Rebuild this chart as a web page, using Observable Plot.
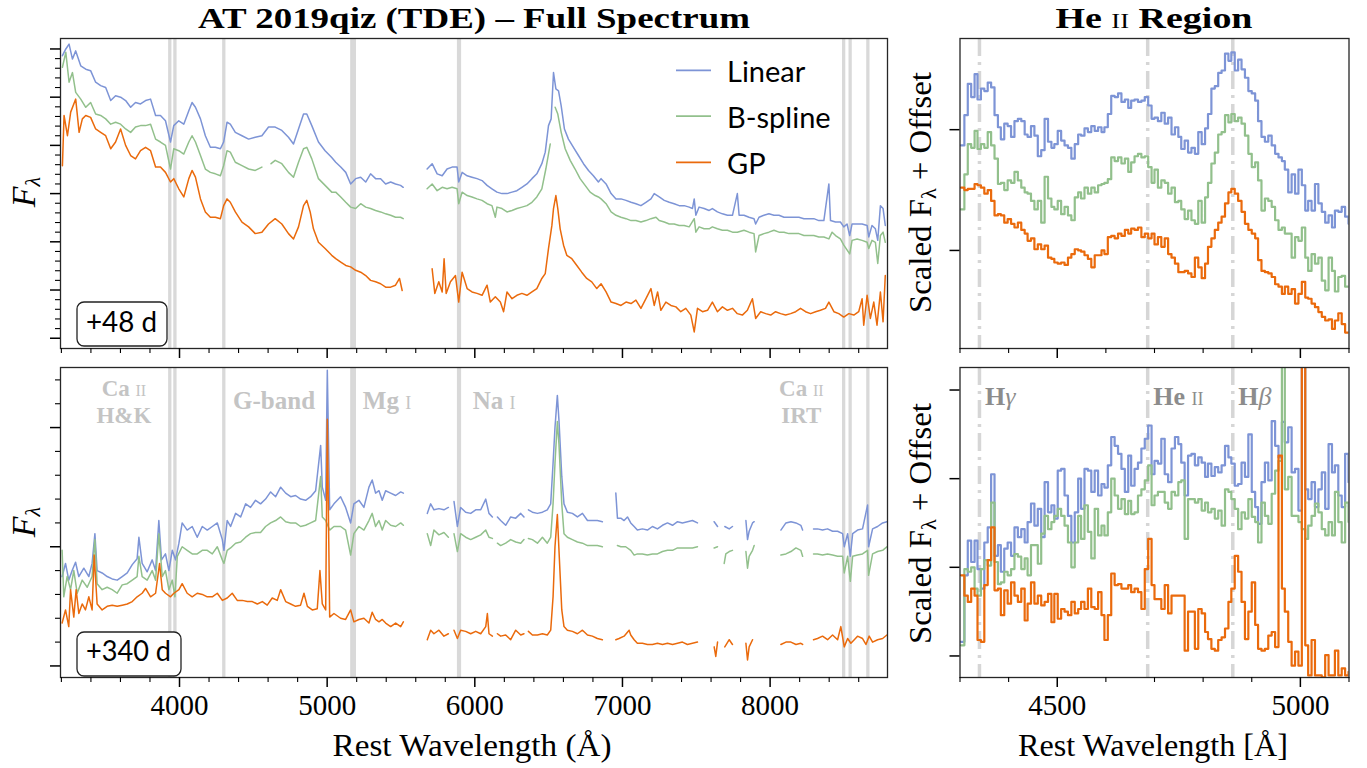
<!DOCTYPE html>
<html>
<head>
<meta charset="utf-8">
<script src="https://cdn.jsdelivr.net/npm/d3@7"></script>
<script src="https://cdn.jsdelivr.net/npm/@observablehq/plot@0.6"></script>
<style>
html,body{margin:0;padding:0;background:#fff;}
#wrap{position:relative;width:1367px;height:768px;overflow:hidden;background:#fff;}
</style>
</head>
<body>
<div id="wrap"></div>
<script>
// ---------------- series ----------------
const seriesNames = ["Linear", "B-spline", "GP"];
const seriesColors = ["#7d94d6", "#92c08c", "#ea6a0c"];
const epochLabels = ["+48 d", "+340 d"];

// ---------------- ticks ----------------
const fullMajorX = [4000, 5000, 6000, 7000, 8000];
const fullMinorX = [3200, 3400, 3600, 3800, 4200, 4400, 4600, 4800, 5200, 5400, 5600, 5800, 6200, 6400, 6600, 6800, 7200, 7400, 7600, 7800, 8200, 8400, 8600];
const zoomMajorX = [4500, 5000];
const zoomMinorX = [4300, 4400, 4600, 4700, 4800, 4900, 5100];
const topMajorY = [0, 1, 2, 3, 4, 5, 6];
const topMinorY = [0.2, 0.4, 0.6, 0.8, 1.2, 1.4, 1.6, 1.8, 2.2, 2.4, 2.6, 2.8, 3.2, 3.4, 3.6, 3.8, 4.2, 4.4, 4.6, 4.8, 5.2, 5.4, 5.6, 5.8];
const botMajorY = [0, 1, 2];
const botMinorY = [0.2, 0.4, 0.6, 0.8, 1.2, 1.4, 1.6, 1.8, 2.2, 2.4];
const heTopY = [0, 1];
const heBotY = [0, 1, 2, 3];

// ---------------- spectral features ----------------
const featureLines = [3934, 3969, 4300, 5167, 5173, 5184, 5890, 5896, 8498, 8542, 8662];
const featureLabels = [
  {name: "Ca", ion: "ii", second: "H&K", at: 3627},
  {name: "G-band", ion: "", second: "", at: 4644},
  {name: "Mg", ion: "i", second: "", at: 5409},
  {name: "Na", ion: "i", second: "", at: 6134},
  {name: "Ca", ion: "ii", second: "IRT", at: 8215}
];
const heLines = [4340, 4686, 4861];
const heLabels = [
  {name: "H", greek: "γ", ion: "", at: 4340},
  {name: "He", greek: "", ion: "ii", at: 4686},
  {name: "H", greek: "β", ion: "", at: 4861}
];

// ---------------- +48 d full spectrum [wavelength, flux] ----------------
const linear48 = [[3207,5.86],[3230,6.00],[3252,6.10],[3275,5.79],[3297,5.96],[3331,5.65],[3365,5.58],[3398,5.55],[3432,5.31],[3466,5.24],[3500,5.20],[3534,4.93],[3567,5.03],[3601,5.00],[3635,4.93],[3669,4.79],[3702,4.89],[3736,4.86],[3770,4.93],[3804,4.96],[3838,4.62],[3871,4.62],[3905,4.51],[3939,4.07],[3961,4.41],[3995,4.51],[4029,4.44],[4063,4.72],[4085,4.89],[4108,4.79],[4142,4.55],[4175,4.20],[4209,3.96],[4243,3.96],[4277,3.93],[4299,4.07],[4322,4.48],[4344,4.44],[4378,4.27],[4423,4.20],[4468,4.13],[4513,4.17],[4558,4.20],[4603,4.38],[4648,4.38],[4693,4.31],[4738,4.17],[4772,4.03],[4806,4.34],[4840,4.65],[4862,4.65],[4896,4.41],[4941,4.07],[4986,3.89],[5031,3.75],
[5058,3.65],[5092,3.55],[5126,3.44],[5159,3.20],[5193,3.31],[5227,3.34],[5261,3.24],[5294,3.41],[5328,3.31],[5362,3.31],[5396,3.20],[5430,3.24],[5463,3.20],[5497,3.17],[5515,3.13],[5540,null],[5677,3.51],[5711,3.62],[5745,3.41],[5779,3.37],[5812,3.51],[5846,3.55],[5880,3.55],[5891,3.24],[5914,3.44],[5948,3.37],[5981,3.34],[6015,3.31],[6049,3.27],[6083,3.17],[6116,3.10],[6150,3.03],[6184,3.00],[6218,3.00],[6252,3.03],[6285,3.06],[6319,3.13],[6353,3.20],[6387,3.31],[6420,3.41],[6454,3.62],[6477,3.86],[6499,4.41],[6517,4.55],[6533,5.51],[6549,5.17],[6567,5.13],[6585,4.82],[6607,4.34],[6634,4.13],[6668,3.96],[6702,3.79],[6736,3.62],[6770,3.48],[6803,3.37],[6837,3.24],
[6855,3.31],[6889,3.20],[6923,3.00],[6956,2.89],[6990,2.89],[7024,2.86],[7058,2.82],[7091,2.79],[7125,2.75],[7159,2.82],[7193,2.89],[7215,3.00],[7249,2.93],[7283,2.86],[7317,2.82],[7350,2.79],[7384,2.75],[7418,2.75],[7452,2.72],[7474,2.69],[7486,2.89],[7497,2.55],[7519,2.72],[7553,2.69],[7587,2.65],[7609,2.69],[7643,2.62],[7677,2.58],[7711,2.55],[7745,2.55],[7778,3.00],[7790,2.55],[7823,2.55],[7857,2.51],[7891,2.48],[7902,2.37],[7925,2.51],[7958,2.55],[7992,2.58],[8026,2.55],[8060,2.55],[8094,2.51],[8127,2.51],[8161,2.51],[8195,2.51],[8229,2.48],[8263,2.48],[8296,2.48],[8330,2.44],[8364,2.44],[8398,3.20],[8409,2.44],[8443,2.41],[8476,2.41],[8499,2.31],[8521,2.37],[8539,2.13],[8555,2.37],[8589,2.37],[8623,2.37],[8657,2.34],[8668,2.10],[8690,2.34],[8713,2.27],[8729,2.03],[8747,2.75],[8765,2.69],[8780,2.34]];

const bspline48 = [[3207,5.62],[3230,5.93],[3252,5.31],[3275,5.51],[3297,5.10],[3331,4.96],[3365,4.79],[3398,4.89],[3432,4.65],[3466,4.62],[3500,4.55],[3534,4.44],[3567,4.48],[3601,4.44],[3635,4.34],[3669,4.27],[3702,4.38],[3736,4.41],[3770,4.41],[3804,4.44],[3838,4.13],[3871,4.07],[3905,4.00],[3939,3.51],[3961,3.93],[3995,3.89],[4029,3.82],[4063,4.07],[4085,4.20],[4108,4.07],[4142,3.79],[4175,3.51],[4209,3.44],[4243,3.41],[4277,3.37],[4299,3.58],[4322,3.89],[4344,3.86],[4378,3.65],[4423,3.58],[4468,3.51],[4513,3.48],[4558,3.55],[4590,null],[4620,3.62],[4648,3.69],[4693,3.62],[4738,3.44],[4772,3.34],[4806,3.65],[4840,3.93],[4862,3.96],[4896,3.72],[4941,3.31],[4986,3.17],[5031,3.03],
[5058,3.03],[5092,2.93],[5126,2.82],[5159,2.72],[5193,2.69],[5227,2.79],[5261,2.72],[5294,2.69],[5328,2.65],[5362,2.62],[5396,2.58],[5430,2.55],[5463,2.51],[5497,2.51],[5515,2.48],[5540,null],[5677,3.10],[5711,3.20],[5745,3.06],[5779,3.13],[5812,3.10],[5846,3.13],[5880,3.10],[5891,2.79],[5914,3.03],[5948,2.96],[5981,2.93],[6015,2.89],[6049,2.86],[6083,2.79],[6116,2.75],[6139,2.51],[6150,2.72],[6184,2.69],[6218,2.62],[6252,2.65],[6285,2.69],[6319,2.72],[6353,2.75],[6387,2.82],[6420,2.93],[6454,3.10],[6481,3.51],[6511,4.03],[6525,null],[6544,4.79],[6562,4.65],[6585,4.27],[6612,3.93],[6646,3.69],[6679,3.51],[6713,3.31],[6747,3.17],[6781,3.03],[6815,2.96],[6837,2.93],
[6855,2.89],[6889,2.79],[6923,2.62],[6956,2.55],[6990,2.51],[7024,2.48],[7058,2.44],[7091,2.44],[7125,2.41],[7159,2.44],[7193,2.48],[7227,2.51],[7249,2.44],[7283,2.41],[7317,2.37],[7350,2.37],[7384,2.34],[7418,2.34],[7452,2.31],[7486,2.48],[7497,2.20],[7519,2.31],[7553,2.27],[7587,2.27],[7609,2.31],[7643,2.27],[7677,2.24],[7711,2.24],[7745,2.20],[7778,2.20],[7823,2.24],[7857,2.20],[7891,2.17],[7902,1.79],[7925,2.13],[7958,2.17],[7992,2.20],[8026,2.24],[8060,2.20],[8094,2.20],[8127,2.17],[8161,2.17],[8195,2.17],[8229,2.13],[8263,2.13],[8296,2.13],[8330,2.10],[8364,2.10],[8398,2.06],[8420,2.20],[8443,2.13],[8476,2.06],[8499,1.93],[8539,1.75],[8555,2.03],[8589,2.06],[8623,2.03],[8657,1.99],[8668,1.86],[8690,2.03],[8713,1.99],[8729,1.55],[8747,2.13],[8765,2.20],[8780,1.99]];

const gp48 = [[3207,3.58],[3218,4.62],[3241,4.20],[3263,4.69],[3297,4.96],[3320,4.27],[3342,4.55],[3365,4.62],[3398,4.58],[3432,4.34],[3466,4.27],[3500,4.20],[3534,3.93],[3567,4.07],[3601,4.34],[3635,4.00],[3669,3.79],[3702,3.72],[3736,3.89],[3770,3.96],[3804,3.89],[3838,3.55],[3871,3.55],[3905,3.44],[3939,3.24],[3961,3.31],[3995,3.10],[4029,2.93],[4063,3.31],[4085,3.48],[4108,3.34],[4142,2.89],[4175,2.62],[4209,2.51],[4243,2.51],[4277,2.48],[4299,2.75],[4322,2.89],[4344,2.82],[4378,2.62],[4423,2.41],[4468,2.31],[4513,2.17],[4558,2.20],[4603,2.37],[4648,2.48],[4693,2.37],[4738,2.17],[4772,2.06],[4806,2.31],[4840,2.75],[4862,2.86],[4885,2.62],[4907,2.27],[4941,1.99],[4986,1.86],[5031,1.72],
[5058,1.65],[5092,1.58],[5126,1.51],[5159,1.48],[5193,1.41],[5227,1.37],[5261,1.30],[5294,1.20],[5328,1.17],[5362,1.13],[5396,1.06],[5430,1.06],[5463,1.10],[5490,1.24],[5508,0.99],[5540,null],[5711,1.44],[5729,0.93],[5756,1.17],[5779,0.96],[5792,1.65],[5806,0.93],[5835,1.17],[5869,1.30],[5891,0.75],[5914,1.37],[5948,1.03],[5981,0.96],[6015,0.93],[6049,0.89],[6083,1.10],[6105,0.75],[6139,0.86],[6173,0.75],[6195,0.55],[6218,0.96],[6252,0.82],[6285,0.89],[6319,0.93],[6353,0.89],[6387,0.96],[6420,1.03],[6454,1.24],[6477,1.34],[6499,1.86],[6522,2.34],[6533,2.69],[6549,2.96],[6562,2.69],[6578,2.27],[6601,1.93],[6623,1.72],[6657,1.65],[6691,1.51],[6724,1.37],[6758,1.24],[6792,1.17],[6826,1.03],
[6855,1.13],[6889,0.96],[6923,0.75],[6956,0.72],[6990,0.68],[7024,0.75],[7058,0.72],[7091,0.79],[7125,0.62],[7159,0.82],[7193,1.03],[7215,0.68],[7238,0.96],[7260,0.58],[7294,0.75],[7328,0.68],[7362,0.65],[7395,0.55],[7429,0.62],[7463,0.48],[7486,0.13],[7508,0.62],[7542,0.55],[7576,0.58],[7609,0.75],[7643,0.55],[7677,0.65],[7711,0.58],[7745,0.62],[7778,0.51],[7812,0.48],[7846,0.58],[7880,0.82],[7902,0.41],[7936,0.55],[7970,0.51],[8004,0.48],[8037,0.55],[8071,0.51],[8105,0.48],[8139,0.51],[8173,0.55],[8206,0.62],[8240,0.55],[8274,0.51],[8308,0.55],[8341,0.58],[8375,0.62],[8398,0.75],[8432,0.55],[8465,0.51],[8499,0.44],[8533,0.51],[8567,0.48],[8600,0.55],[8623,0.82],[8634,0.27],[8657,0.89],[8679,0.41],[8702,0.75],[8724,0.27],[8747,0.96],[8765,0.34],[8780,1.30]];

// ---------------- +340 d full spectrum [wavelength, flux] ----------------
const linear340 = [[3205,0.75],[3228,0.86],[3250,0.72],[3273,0.80],[3296,0.87],[3318,0.75],[3352,0.82],[3386,0.75],[3408,0.86],[3427,1.11],[3442,0.80],[3476,0.78],[3510,0.75],[3544,0.73],[3578,0.72],[3612,0.75],[3646,0.78],[3680,0.85],[3713,0.90],[3725,1.08],[3747,0.86],[3781,0.79],[3815,0.89],[3838,0.80],[3860,1.22],[3878,0.89],[3905,0.94],[3928,0.80],[3951,0.97],[3973,0.89],[3996,1.03],[4018,1.20],[4052,1.14],[4086,1.17],[4120,1.08],[4154,1.17],[4188,1.14],[4222,1.17],[4256,1.20],[4290,1.06],[4301,0.97],[4323,1.22],[4346,1.17],[4380,1.28],[4414,1.25],[4448,1.36],[4481,1.33],[4515,1.39],[4549,1.36],[4583,1.40],[4617,1.46],[4651,1.42],[4685,1.50],[4719,1.45],[4753,1.42],[4786,1.43],[4820,1.40],[4854,1.39],[4888,1.42],[4922,1.47],[4956,1.85],[4967,1.50],[4990,1.39],[5001,2.48],[5017,1.31],[5046,1.36],
[5091,1.42],[5125,1.33],[5159,1.20],[5181,1.36],[5215,1.39],[5249,1.33],[5283,1.50],[5305,1.56],[5328,1.45],[5351,1.47],[5373,1.39],[5396,1.47],[5430,1.45],[5464,1.43],[5498,1.46],[5516,1.45],[5560,null],[5678,1.28],[5701,1.36],[5723,1.31],[5757,1.32],[5791,1.31],[5821,1.33],[5840,null],[5859,1.38],[5882,1.17],[5904,1.33],[5938,1.29],[5972,1.28],[6006,1.31],[6040,1.31],[6074,1.40],[6096,1.28],[6119,1.25],[6130,null],[6153,1.25],[6175,1.22],[6209,1.18],[6243,1.25],[6277,1.24],[6311,1.28],[6333,1.25],[6345,null],[6363,1.31],[6390,1.29],[6424,1.28],[6458,1.29],[6491,1.31],[6514,1.36],[6530,1.70],[6543,2.00],[6559,2.27],[6570,2.06],[6589,1.59],[6604,1.36],[6627,1.29],[6661,1.28],[6695,1.25],[6729,1.28],[6763,1.22],[6796,1.22],[6830,1.22],[6864,1.21],[6900,null],
[6955,1.45],[6966,1.24],[6989,1.24],[7011,1.22],[7034,1.25],[7056,1.20],[7079,1.17],[7101,1.14],[7135,1.15],[7169,1.14],[7203,1.17],[7237,1.15],[7271,1.18],[7305,1.20],[7339,1.18],[7373,1.21],[7406,1.20],[7440,1.21],[7474,1.22],[7508,1.20],[7560,null],[7621,1.21],[7644,1.17],[7665,null],[7693,1.17],[7723,1.15],[7745,1.17],[7790,null],[7836,1.22],[7847,1.06],[7858,1.13],[7881,1.20],[7892,1.21],[7980,null],[8073,1.14],[8107,1.20],[8141,1.21],[8175,1.20],[8208,1.18],[8220,1.14],[8260,null],[8294,1.15],[8321,1.15],[8355,1.14],[8389,1.15],[8423,1.13],[8457,1.13],[8491,1.11],[8502,1.00],[8525,1.11],[8543,0.92],[8559,1.11],[8592,1.14],[8626,1.15],[8660,1.35],[8667,1.00],[8694,1.15],[8728,1.17],[8762,1.20],[8791,1.21]];

const bspline340 = [[3205,0.97],[3216,0.58],[3239,0.75],[3262,0.64],[3284,0.80],[3307,0.61],[3341,0.72],[3375,0.66],[3408,0.75],[3427,1.06],[3442,0.69],[3476,0.64],[3510,0.66],[3544,0.64],[3578,0.61],[3612,0.68],[3646,0.69],[3680,0.72],[3713,0.75],[3725,0.92],[3747,0.75],[3781,0.72],[3815,0.80],[3838,0.72],[3860,1.11],[3883,0.75],[3905,0.80],[3928,0.64],[3951,0.72],[3969,0.58],[3985,0.92],[4018,1.00],[4052,0.97],[4086,0.94],[4120,0.94],[4154,0.97],[4188,0.97],[4222,0.94],[4256,1.00],[4290,0.89],[4301,0.86],[4323,0.97],[4346,0.99],[4380,1.03],[4414,1.04],[4448,1.08],[4481,1.11],[4515,1.12],[4549,1.12],[4583,1.17],[4617,1.20],[4651,1.22],[4685,1.25],[4719,1.21],[4753,1.20],[4786,1.20],[4820,1.17],[4854,1.18],[4888,1.20],[4922,1.22],[4956,1.59],[4967,1.25],[4990,1.22],[5017,1.14],[5046,1.17],
[5091,1.17],[5125,1.14],[5159,0.93],[5181,1.11],[5215,1.17],[5249,1.14],[5283,1.22],[5305,1.28],[5328,1.17],[5351,1.22],[5373,1.14],[5396,1.22],[5430,1.18],[5464,1.17],[5498,1.20],[5516,1.18],[5560,null],[5678,1.11],[5701,1.01],[5723,1.14],[5757,1.10],[5791,1.12],[5821,1.08],[5840,null],[5859,1.11],[5882,0.96],[5904,1.11],[5938,1.08],[5972,1.06],[6006,1.08],[6040,1.10],[6074,1.14],[6096,1.08],[6119,1.07],[6130,null],[6153,1.03],[6175,1.01],[6209,1.03],[6243,1.06],[6277,1.04],[6311,1.03],[6333,1.06],[6345,null],[6363,1.07],[6390,1.06],[6424,1.03],[6458,1.08],[6491,1.03],[6514,1.08],[6530,1.36],[6543,1.70],[6559,2.05],[6570,1.86],[6589,1.36],[6604,1.11],[6627,1.08],[6661,1.06],[6695,1.04],[6729,1.03],[6763,1.01],[6796,1.01],[6830,1.01],[6864,1.00],[6900,null],
[6966,1.01],[6989,1.00],[7022,1.00],[7056,0.97],[7079,0.93],[7101,0.94],[7135,0.94],[7169,0.93],[7203,0.94],[7237,0.94],[7271,0.96],[7305,0.97],[7339,0.97],[7373,0.99],[7406,0.99],[7440,0.99],[7474,0.99],[7508,1.00],[7560,null],[7621,0.99],[7644,1.00],[7665,null],[7689,0.86],[7700,0.94],[7723,0.96],[7745,0.97],[7790,null],[7836,0.96],[7847,0.82],[7858,0.92],[7881,0.97],[7892,1.01],[7980,null],[8073,0.93],[8107,0.94],[8141,0.96],[8175,0.99],[8208,0.97],[8220,0.92],[8260,null],[8294,0.94],[8321,0.94],[8355,0.93],[8389,0.94],[8423,0.93],[8457,0.92],[8491,0.92],[8502,0.78],[8525,0.92],[8543,0.71],[8559,0.92],[8592,0.93],[8626,0.94],[8660,0.97],[8667,0.76],[8694,0.94],[8728,0.96],[8762,0.97],[8791,1.00]];

const gp340 = [[3205,0.36],[3228,0.47],[3250,0.33],[3262,0.64],[3284,0.41],[3300,0.64],[3318,0.44],[3341,0.52],[3363,0.47],[3386,0.58],[3408,0.47],[3422,0.93],[3442,0.52],[3476,0.47],[3510,0.50],[3544,0.51],[3578,0.50],[3612,0.51],[3646,0.52],[3680,0.54],[3713,0.58],[3747,0.61],[3770,0.65],[3804,0.58],[3838,0.61],[3865,0.86],[3883,0.64],[3905,0.61],[3939,0.58],[3962,0.61],[3996,0.64],[4018,0.69],[4052,0.61],[4086,0.58],[4120,0.61],[4154,0.60],[4188,0.58],[4222,0.58],[4256,0.61],[4290,0.55],[4323,0.57],[4357,0.61],[4391,0.55],[4425,0.55],[4459,0.54],[4493,0.54],[4527,0.52],[4561,0.54],[4594,0.51],[4628,0.57],[4662,0.55],[4685,0.64],[4719,0.54],[4753,0.52],[4786,0.50],[4820,0.51],[4843,0.61],[4866,0.50],[4899,0.47],[4933,0.48],[4951,0.80],[4967,0.52],[4990,0.47],[5001,2.07],[5017,0.41],[5046,0.44],
[5091,0.40],[5125,0.39],[5159,0.47],[5181,0.37],[5215,0.39],[5249,0.40],[5283,0.36],[5305,0.45],[5328,0.39],[5351,0.37],[5373,0.39],[5396,0.36],[5430,0.33],[5464,0.36],[5498,0.33],[5516,0.37],[5560,null],[5678,0.22],[5701,0.30],[5723,0.27],[5757,0.30],[5791,0.25],[5821,0.27],[5840,null],[5859,0.30],[5882,0.23],[5904,0.30],[5938,0.29],[5972,0.27],[6006,0.29],[6040,0.27],[6074,0.33],[6085,0.44],[6096,0.27],[6119,0.25],[6130,null],[6153,0.27],[6175,0.25],[6209,0.26],[6243,0.22],[6277,0.30],[6311,0.26],[6333,0.27],[6345,null],[6363,0.29],[6390,0.26],[6424,0.26],[6458,0.27],[6491,0.26],[6514,0.30],[6530,0.58],[6543,1.00],[6559,1.27],[6570,0.97],[6589,0.47],[6604,0.33],[6627,0.30],[6661,0.29],[6695,0.27],[6729,0.30],[6763,0.26],[6796,0.25],[6830,0.23],[6864,0.22],[6900,null],
[6955,0.22],[6977,0.23],[7011,0.25],[7045,0.30],[7056,0.26],[7079,0.22],[7101,0.19],[7135,0.19],[7169,0.18],[7203,0.18],[7237,0.19],[7271,0.18],[7305,0.19],[7339,0.18],[7373,0.19],[7406,0.20],[7440,0.18],[7474,0.19],[7508,0.20],[7560,null],[7621,0.16],[7632,0.08],[7644,0.20],[7665,null],[7693,0.16],[7723,0.22],[7745,0.18],[7790,null],[7836,0.19],[7847,0.05],[7858,0.16],[7881,0.22],[7980,null],[8073,0.18],[8107,0.20],[8141,0.20],[8175,0.18],[8208,0.19],[8220,0.18],[8260,null],[8294,0.22],[8321,0.23],[8355,0.25],[8389,0.22],[8423,0.26],[8457,0.22],[8479,0.33],[8502,0.16],[8525,0.23],[8547,0.19],[8570,0.22],[8592,0.25],[8626,0.23],[8649,0.18],[8671,0.25],[8694,0.20],[8728,0.22],[8762,0.23],[8791,0.26]];

// ---------------- He II region (binned, bin start wavelengths) ----------------
const heWave = [4302,4309,4316,4323,4330,4336,4343,4350,4357,4364,
4371,4378,4384,4391,4398,4405,4412,4419,4426,4433,
4439,4446,4453,4460,4467,4474,4481,4488,4494,4501,
4508,4515,4522,4529,4536,4543,4549,4556,4563,4570,
4577,4584,4591,4597,4604,4611,4618,4625,4632,4639,
4646,4652,4659,4666,4673,4680,4687,4694,4700,4707,
4714,4721,4728,4735,4742,4749,4755,4762,4769,4776,
4783,4790,4797,4804,4810,4817,4824,4831,4838,4845,
4852,4858,4865,4872,4879,4886,4893,4900,4907,4913,
4920,4927,4934,4941,4948,4955,4962,4968,4975,4982,
4989,4996,5003,5010,5016,5023,5030,5037,5044,5051,
5058,5065,5071,5078,5085,5092,5099];

const linearHe48 = [0.87,1.12,1.38,1.27,1.46,1.25,1.34,1.32,1.39,1.35,
1.12,1.02,0.92,1.05,1.03,0.94,1.07,1.09,1.07,0.96,
0.94,1.03,0.95,0.78,0.83,1.09,0.90,0.85,0.88,0.99,
0.91,0.87,0.85,0.76,0.88,0.96,0.95,1.01,0.98,1.03,
0.99,1.02,0.98,1.02,1.13,1.28,1.27,1.30,1.23,1.25,
1.18,1.24,1.25,1.23,1.24,1.27,1.20,1.09,1.10,1.07,
1.14,1.05,1.10,0.96,1.02,0.94,0.84,0.91,0.81,0.85,
0.80,0.98,0.88,1.01,1.13,1.34,1.36,1.47,1.49,1.63,
1.57,1.64,1.49,1.58,1.50,1.43,1.32,1.30,1.24,1.07,
0.94,0.90,0.95,0.87,0.80,0.77,0.74,0.67,0.48,0.63,
0.47,0.67,0.54,0.33,0.41,0.33,0.55,0.39,0.32,0.23,
0.29,0.19,0.33,0.32,0.36,0.28,0.22];

const bsplineHe48 = [0.34,0.63,0.88,0.85,0.99,0.84,0.88,0.85,0.98,0.87,
0.76,0.55,0.56,0.50,0.58,0.56,0.65,0.58,0.52,0.48,
0.47,0.41,0.34,0.41,0.23,0.61,0.43,0.36,0.34,0.41,
0.30,0.36,0.29,0.25,0.44,0.48,0.43,0.52,0.47,0.52,
0.48,0.54,0.55,0.56,0.59,0.77,0.74,0.77,0.72,0.76,
0.65,0.73,0.78,0.80,0.77,0.78,0.69,0.56,0.67,0.52,
0.58,0.56,0.47,0.52,0.40,0.41,0.34,0.26,0.33,0.25,
0.22,0.41,0.23,0.44,0.56,0.72,0.81,0.96,0.98,1.12,
1.06,1.13,1.07,1.10,1.05,0.95,0.80,0.69,0.73,0.58,
0.33,0.43,0.41,0.36,0.25,0.17,0.19,0.14,0.14,-0.06,
0.11,0.08,0.19,-0.06,-0.17,-0.03,-0.11,-0.06,-0.25,-0.33,
-0.06,-0.17,-0.34,-0.22,-0.21,-0.30,-0.30];

const gpHe48 = [0.52,0.50,0.51,0.51,0.55,0.54,0.52,0.47,0.50,0.41,
0.29,0.30,0.29,0.23,0.26,0.22,0.19,0.23,0.17,0.14,
0.08,0.10,0.01,0.05,0.01,0.04,-0.06,-0.07,-0.10,-0.11,
-0.10,-0.12,-0.06,-0.03,0.01,0.00,-0.01,-0.04,-0.07,-0.14,
-0.04,-0.04,0.00,-0.03,0.11,0.12,0.10,0.14,0.12,0.17,
0.14,0.18,0.17,0.19,0.11,0.14,0.10,0.14,0.05,0.11,
0.03,0.10,-0.03,-0.06,-0.11,-0.18,-0.18,-0.17,-0.19,-0.22,
-0.06,-0.14,-0.23,-0.11,0.03,0.10,0.17,0.23,0.28,0.39,
0.48,0.51,0.47,0.41,0.32,0.22,0.17,0.14,0.10,-0.08,
-0.17,-0.18,-0.19,-0.22,-0.28,-0.30,-0.36,-0.30,-0.36,-0.32,
-0.44,-0.36,-0.26,-0.39,-0.40,-0.44,-0.47,-0.51,-0.55,-0.58,
-0.57,-0.65,-0.58,-0.52,-0.61,-0.68,-0.68];

const linearHe340 = [0.16,0.91,1.30,1.06,1.30,0.98,0.76,1.28,1.45,2.05,
1.13,1.25,0.95,1.21,1.28,1.13,1.45,1.34,1.43,1.28,
1.51,1.72,1.47,1.66,1.34,1.96,1.62,1.70,1.55,2.09,
2.11,1.81,1.58,1.28,1.62,2.00,1.66,2.11,2.09,1.85,
2.09,1.81,1.94,1.90,2.15,2.47,2.37,2.28,2.11,1.85,
2.26,1.92,2.11,2.18,2.34,2.45,2.60,2.05,2.20,2.17,
2.45,2.05,1.96,2.34,2.47,2.39,2.18,1.81,2.26,2.28,
2.15,2.24,2.18,2.02,2.17,2.03,2.13,2.07,2.15,2.37,
2.24,2.17,1.92,1.94,2.18,2.02,2.50,1.85,1.68,1.49,
1.96,2.18,1.98,2.65,2.37,2.24,2.64,2.41,2.58,2.07,
2.11,1.64,3.60,1.88,1.77,1.96,1.68,1.88,2.07,1.66,
2.39,2.07,2.15,1.81,1.68,2.28,1.96];

const bsplineHe340 = [0.12,0.98,0.95,1.00,0.76,0.68,0.98,1.08,1.02,1.73,
1.06,0.81,0.83,0.95,0.91,0.98,1.15,1.12,0.98,1.10,
0.91,1.25,1.25,1.04,1.38,1.58,1.43,1.51,1.58,1.66,
1.58,1.47,1.28,1.00,1.28,1.58,1.32,1.70,1.40,1.10,
1.66,1.36,1.47,1.36,1.62,2.00,1.81,1.66,1.77,1.60,
1.75,1.60,1.62,1.81,1.88,1.98,2.15,1.70,1.81,1.85,
1.85,1.73,1.66,1.85,1.81,1.96,1.98,1.32,1.77,1.77,
1.73,1.77,1.64,1.73,1.62,1.66,1.55,1.64,1.47,1.88,
1.85,1.77,1.66,1.43,1.62,1.55,1.77,1.57,1.51,1.28,
1.73,1.58,1.49,1.83,2.09,2.20,3.60,1.88,2.02,1.58,
1.58,1.51,1.43,1.32,1.47,1.58,1.72,1.62,1.43,1.36,
1.51,1.36,1.85,1.51,1.28,1.73,1.51];

const gpHe340 = [0.91,0.68,0.61,0.76,0.68,0.18,0.16,0.80,1.08,1.45,
0.74,0.76,0.46,0.74,0.59,0.83,0.68,0.61,0.76,0.40,
0.59,0.83,0.59,0.68,0.57,0.61,0.70,0.38,0.70,0.42,
0.53,0.50,0.46,0.61,0.48,0.53,0.61,0.53,0.76,0.55,
0.53,0.72,0.46,0.18,0.46,0.93,0.80,0.81,0.76,0.76,
0.80,0.72,0.76,0.72,0.53,0.98,1.32,0.80,0.64,0.64,
0.53,0.80,0.48,0.68,0.68,0.68,0.68,0.06,0.50,0.50,
0.08,0.53,0.48,0.27,0.19,0.08,0.06,0.18,0.21,0.31,
0.61,0.76,1.13,0.95,0.61,0.19,0.50,0.83,0.35,0.08,
0.06,0.08,0.23,0.27,0.10,2.26,0.76,0.50,0.16,-0.11,
0.05,-0.11,3.60,0.12,-0.22,0.18,-0.22,-0.22,-0.24,0.01,
-0.22,-0.22,0.06,-0.22,-0.14,-0.22,-0.18];

// ---------------- drawing ----------------
const wrap = document.getElementById("wrap");
const SERIF = '"Liberation Serif", "DejaVu Serif", serif';
const SANS = 'Lato, "Open Sans", sans-serif';
const pairs = arr => arr.map(d => ({x: d[0], y: d[1]}));
const binned = vals => heWave.map((w, i) => ({x: w, y: vals[i]}));
const blank = () => "";

function panel(o) {
  const marks = [];
  marks.push(Plot.ruleX(o.rules, {stroke: o.ruleStroke, strokeWidth: o.ruleWidth, strokeDasharray: o.ruleDash}));
  o.series.forEach((s, i) => marks.push(Plot.line(s, {
    x: "x", y: "y", stroke: seriesColors[i], strokeWidth: o.lineWidth,
    curve: o.curve || "linear", clip: true
  })));
  marks.push(Plot.frame({stroke: "#262626", strokeWidth: 1.3}));
  marks.push(Plot.axisX(o.xMajor, {label: null, tickSize: 10, strokeWidth: 1.5, tickPadding: 7,
    tickFormat: o.xLabels ? (d => String(d)) : blank}));
  marks.push(Plot.axisX(o.xMinor, {label: null, tickSize: 5, strokeWidth: 1.1, tickFormat: blank}));
  marks.push(Plot.axisY(o.yMajor, {label: null, tickSize: 10, strokeWidth: 1.5, tickFormat: blank}));
  if (o.yMinor.length) marks.push(Plot.axisY(o.yMinor, {label: null, tickSize: 5, strokeWidth: 1.1, tickFormat: blank}));
  const el = Plot.plot({
    width: o.width, height: o.height,
    marginLeft: o.ml, marginRight: o.mr, marginTop: o.mt, marginBottom: o.mb,
    x: {domain: o.xDomain, label: null},
    y: {domain: o.yDomain, label: null},
    style: {fontFamily: SERIF, fontSize: "29px", color: "#000", background: "transparent", overflow: "visible"},
    marks
  });
  el.style.position = "absolute";
  el.style.left = o.left + "px";
  el.style.top = o.top + "px";
  wrap.appendChild(el);
  const sc = el.scale ? el.scale("x") : null;
  el.px = v => o.left + ((sc && sc.apply) ? sc.apply(v)
    : o.ml + (v - o.xDomain[0]) / (o.xDomain[1] - o.xDomain[0]) * (o.width - o.ml - o.mr));
  return el;
}

const fullX = [3194, 8795];
const heX = [4300, 5100];

const pTL = panel({left: 0, top: 0, width: 900, height: 360, ml: 60, mr: 13, mt: 38, mb: 12,
  xDomain: fullX, yDomain: [-0.213, 6.217], xMajor: fullMajorX, xMinor: fullMinorX, xLabels: false,
  yMajor: topMajorY, yMinor: topMinorY, rules: featureLines, ruleStroke: "#d9d9d9", ruleWidth: 3.3,
  series: [pairs(linear48), pairs(bspline48), pairs(gp48)], lineWidth: 1.5});

const pBL = panel({left: 0, top: 350, width: 900, height: 418, ml: 60, mr: 13, mt: 17, mb: 91,
  xDomain: fullX, yDomain: [-0.097, 2.504], xMajor: fullMajorX, xMinor: fullMinorX, xLabels: true,
  yMajor: botMajorY, yMinor: botMinorY, rules: featureLines, ruleStroke: "#d9d9d9", ruleWidth: 3.3,
  series: [pairs(linear340), pairs(bspline340), pairs(gp340)], lineWidth: 1.5});

const pTR = panel({left: 900, top: 0, width: 467, height: 360, ml: 59.5, mr: 18.5, mt: 38, mb: 12,
  xDomain: heX, yDomain: [-0.812, 1.755], xMajor: zoomMajorX, xMinor: zoomMinorX, xLabels: false,
  yMajor: heTopY, yMinor: [], rules: heLines, ruleStroke: "#d6d6d6", ruleWidth: 3.5, ruleDash: "18,6,3,6",
  series: [binned(linearHe48), binned(bsplineHe48), binned(gpHe48)], lineWidth: 2.2, curve: "step-after"});

const pBR = panel({left: 900, top: 350, width: 467, height: 418, ml: 59.5, mr: 18.5, mt: 17, mb: 91,
  xDomain: heX, yDomain: [-0.243, 3.254], xMajor: zoomMajorX, xMinor: zoomMinorX, xLabels: true,
  yMajor: heBotY, yMinor: [], rules: heLines, ruleStroke: "#d6d6d6", ruleWidth: 3.5, ruleDash: "18,6,3,6",
  series: [binned(linearHe340), binned(bsplineHe340), binned(gpHe340)], lineWidth: 2.2, curve: "step-after"});

// ---------------- text overlay ----------------
const ov = d3.select(wrap).append("svg")
  .attr("width", 1367).attr("height", 768)
  .style("position", "absolute").style("left", "0px").style("top", "0px")
  .attr("font-family", SERIF);

function fitText(sel, len) {
  return sel.attr("textLength", len).attr("lengthAdjust", "spacingAndGlyphs");
}

// titles
fitText(ov.append("text").attr("x", 474).attr("y", 28).attr("text-anchor", "middle")
  .attr("font-weight", "bold").attr("font-size", 30), 552).text("AT 2019qiz (TDE) – Full Spectrum");
const t2 = fitText(ov.append("text").attr("x", 1154).attr("y", 28).attr("text-anchor", "middle")
  .attr("font-size", 30), 197);
t2.append("tspan").attr("font-weight", "bold").text("He ");
t2.append("tspan").attr("font-variant", "small-caps").text("ii");
t2.append("tspan").attr("font-weight", "bold").text(" Region");

// x labels
fitText(ov.append("text").attr("x", 472).attr("y", 756).attr("text-anchor", "middle").attr("font-size", 31), 279)
  .text("Rest Wavelength (Å)");
fitText(ov.append("text").attr("x", 1153).attr("y", 756).attr("text-anchor", "middle").attr("font-size", 31), 270)
  .text("Rest Wavelength [Å]");

// y labels
[192, 522].forEach(cy => {
  const t = ov.append("g").attr("transform", `translate(35,${cy}) rotate(-90)`)
    .append("text").attr("text-anchor", "middle").attr("font-size", 34);
  t.append("tspan").attr("font-style", "italic").text("F");
  t.append("tspan").attr("font-size", 22).attr("dy", 5).attr("font-style", "italic").text("λ");
});
[192.5, 523.5].forEach(cy => {
  const t = fitText(ov.append("g").attr("transform", `translate(931,${cy}) rotate(-90)`)
    .append("text").attr("text-anchor", "middle").attr("font-size", 31), 241);
  t.append("tspan").text("Scaled F");
  t.append("tspan").attr("font-size", 21).attr("dy", 5).text("λ");
  t.append("tspan").attr("dy", -5).text(" + Offset");
});

// legend
const legendY = [70.3, 116.2, 162.3];
seriesNames.forEach((name, i) => {
  ov.append("line").attr("x1", 676).attr("x2", 711).attr("y1", legendY[i]).attr("y2", legendY[i])
    .attr("stroke", seriesColors[i]).attr("stroke-width", 1.7);
  ov.append("text").attr("x", 727).attr("y", legendY[i] + 11.5).attr("font-family", SANS)
    .attr("font-size", 29).attr("fill", "#000").text(name);
});

// epoch badges
const badges = [{x: 77, y: 302, w: 90, h: 44, tl: 71, by: 331.7}, {x: 77, y: 632, w: 104, h: 44, tl: 85, by: 661}];
badges.forEach((b, i) => {
  ov.append("rect").attr("x", b.x).attr("y", b.y).attr("width", b.w).attr("height", b.h).attr("rx", 7)
    .attr("fill", "#fff").attr("stroke", "#222").attr("stroke-width", 1.3);
  fitText(ov.append("text").attr("x", b.x + 9).attr("y", b.by).attr("font-family", SANS)
    .attr("font-size", 28).attr("fill", "#000"), b.tl).text(epochLabels[i]);
});

// feature labels (bottom-left)
featureLabels.forEach(f => {
  const x = pBL.px(f.at);
  const two = !!f.second;
  const fs = two ? 23 : 25;
  const t = ov.append("text").attr("x", x).attr("y", two ? 396 : 409.3).attr("text-anchor", "middle")
    .attr("font-size", fs).attr("font-weight", "bold").attr("fill", "#c4c4c4");
  t.append("tspan").text(f.name);
  if (f.ion) t.append("tspan").attr("font-weight", "normal").attr("font-variant", "small-caps").text(" " + f.ion);
  if (two) ov.append("text").attr("x", x).attr("y", 422.5).attr("text-anchor", "middle")
    .attr("font-size", fs).attr("font-weight", "bold").attr("fill", "#c4c4c4").text(f.second);
});

// He II region line labels (bottom-right)
heLabels.forEach(f => {
  const x = pBR.px(f.at) + 6;
  const t = ov.append("text").attr("x", x).attr("y", 405).attr("font-size", 26)
    .attr("font-weight", "bold").attr("fill", "#8c8c8c");
  t.append("tspan").text(f.name);
  if (f.greek) t.append("tspan").attr("font-weight", "normal").attr("font-style", "italic").text(f.greek);
  if (f.ion) t.append("tspan").attr("font-weight", "normal").attr("font-variant", "small-caps").text(" " + f.ion);
});
</script>
</body>
</html>
